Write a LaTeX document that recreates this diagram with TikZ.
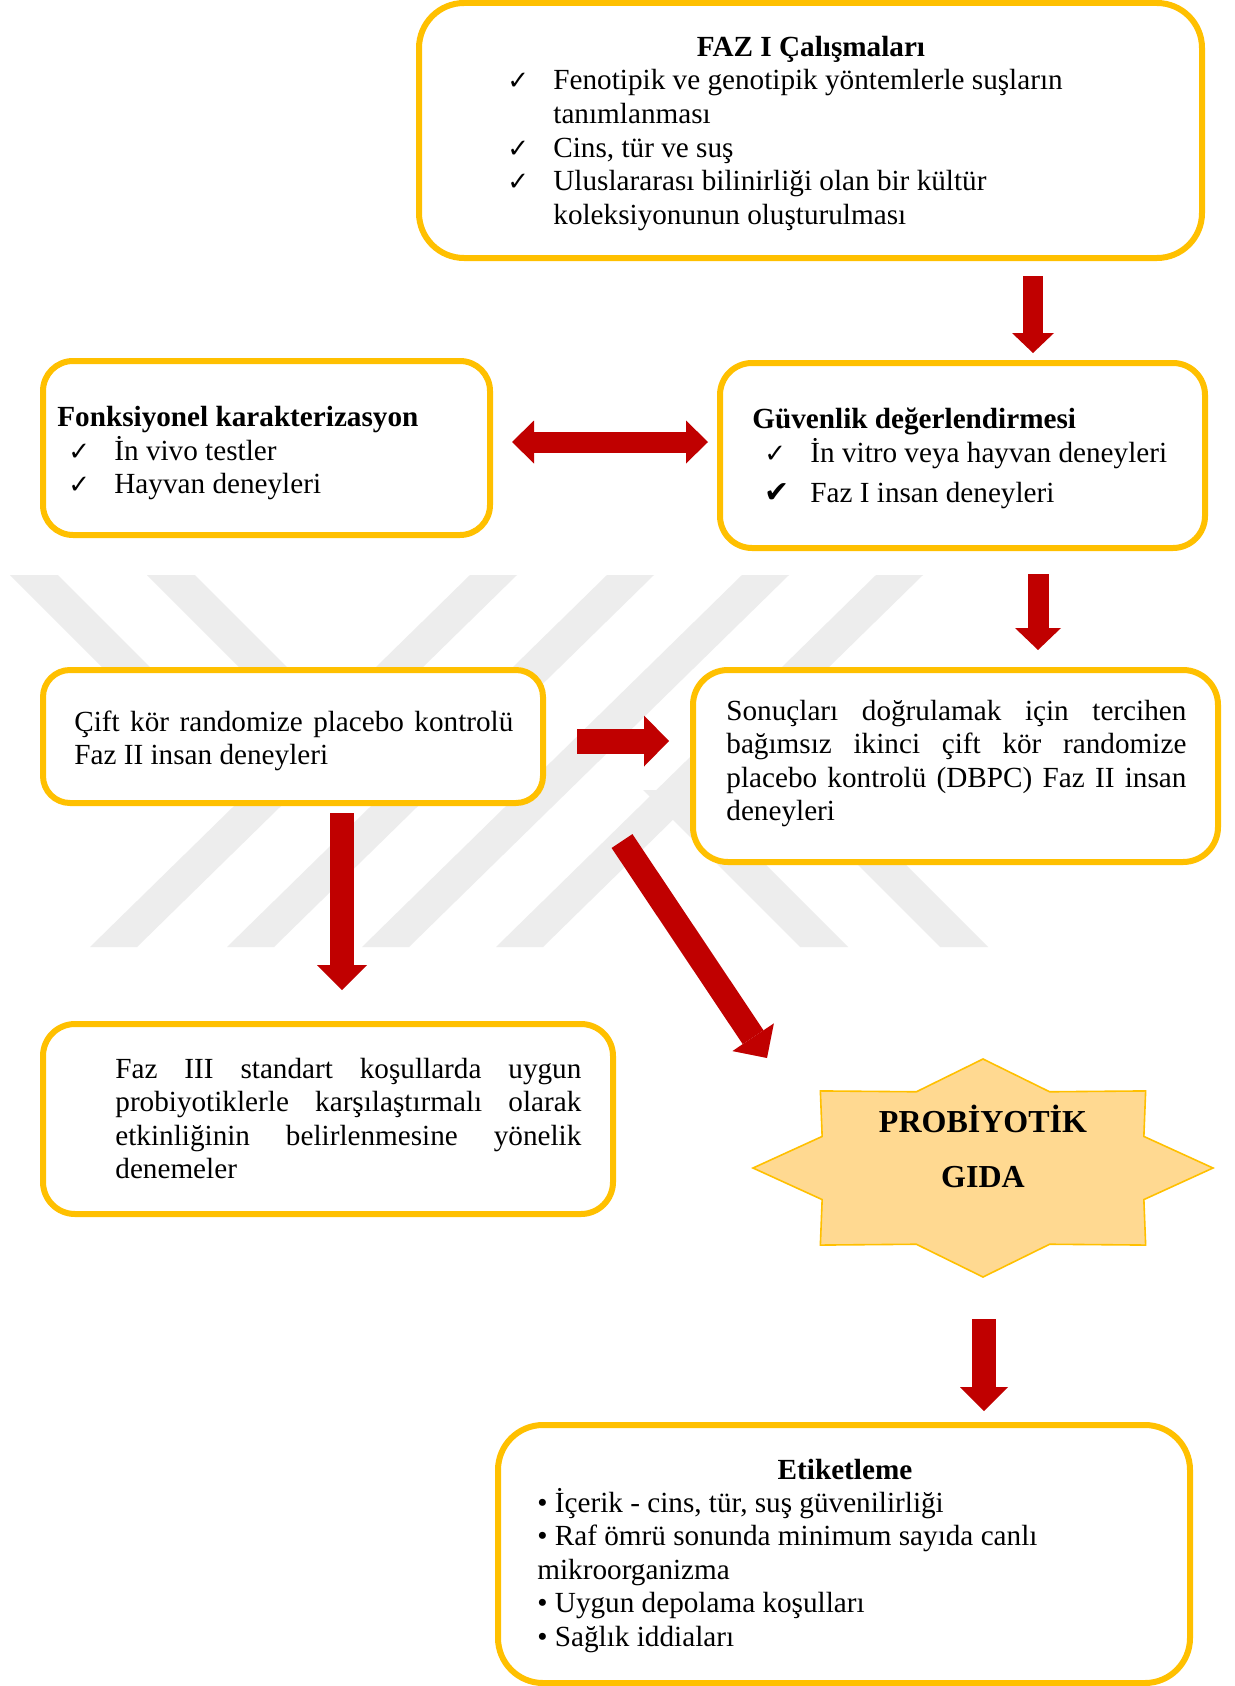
\documentclass[tikz,border=0pt]{standalone}
\usepackage{fontspec}
\setmainfont{Liberation Serif}
\newfontfamily\symbolfont{DejaVu Sans}
\usetikzlibrary{arrows.meta}

\definecolor{boxgold}{HTML}{FFC000}
\definecolor{arrowred}{HTML}{C00000}
\definecolor{starfill}{HTML}{FFD991}
\definecolor{markgray}{HTML}{EDEDED}

\newcommand{\chk}{{\symbolfont\fontsize{13}{13}\selectfont ✓}}
\newcommand{\chkbold}{{\symbolfont\fontsize{15}{13}\selectfont ✔}}
\newcommand{\chkitem}[1]{\makebox[23pt][l]{\chk}#1}

\begin{document}
\begin{tikzpicture}[x=0.5pt,y=-0.5pt]
  \tikzstyle{box}=[draw=boxgold,line width=3pt,fill=white]
  \tikzstyle{txt}=[inner sep=0pt,anchor=base west,font=\fontsize{14.6}{16.8}\selectfont]
  \tikzstyle{boxtitle}=[txt,font=\bfseries\fontsize{14.6}{16.8}\selectfont]
  \tikzset{
    redarrow/.style n args={3}{draw=arrowred,line width=#1,-{Triangle[width=#2,length=#3,line width=0pt]}},
    redboth/.style n args={3}{draw=arrowred,line width=#1,{Triangle[width=#2,length=#3,line width=0pt]}-{Triangle[width=#2,length=#3,line width=0pt]}}
  }

  \fill[white] (0,0) rectangle (1235,1686);
  \useasboundingbox (0,0) rectangle (1235,1686);

  % watermark
  \foreach \x in {470,607,742,876}
    \fill[markgray] (\x,575) -- ++(47,0) -- ++(-380,372) -- ++(-47,0) -- cycle;
  \foreach \x/\ya/\yb in {10/575/805,147/575/805,643/790/947,718/725/947}
    \fill[markgray] (\x,\ya) -- ++(48,0) -- (\x+48+\yb-\ya,\yb) -- (\x+\yb-\ya,\yb) -- cycle;

  % boxes
  \node[box,rounded corners=22.5pt,minimum width=391.5pt,minimum height=127.5pt] (faz1) at (810.5,130.5) {};
  \node[box,rounded corners=15pt,minimum width=223.5pt,minimum height=87pt] (fonk) at (266.5,448) {};
  \node[box,rounded corners=16pt,minimum width=242.5pt,minimum height=92.5pt] (guv) at (962.5,455.5) {};
  \node[box,rounded corners=13.5pt,minimum width=250pt,minimum height=66.5pt] (cift) at (293,736.5) {};
  \node[box,rounded corners=17.5pt,minimum width=262.5pt,minimum height=96pt] (sonuc) at (955.5,766) {};
  \node[box,rounded corners=16pt,minimum width=285pt,minimum height=95pt] (faz3) at (328,1119) {};
  \node[box,rounded corners=22.5pt,minimum width=346pt,minimum height=129pt] (etiket) at (844,1554) {};

  % texts
  \node[boxtitle,anchor=base] (faz1-title) at (811,57) {FAZ I Çalışmaları};
  \node[txt] (faz1-list) at (507,90) {\parbox[t]{300pt}{\chkitem{Fenotipik ve genotipik yöntemlerle suşların}\\
    \hspace*{23pt}tanımlanması\\ \chkitem{Cins, tür ve suş}\\ \chkitem{Uluslararası bilinirliği olan bir kültür}\\
    \hspace*{23pt}koleksiyonunun oluşturulması}};

  \node[boxtitle] (fonk-title) at (57,426) {Fonksiyonel karakterizasyon};
  \node[txt] (fonk-list) at (68,460) {\parbox[t]{250pt}{\chkitem{İn vivo testler}\\ \chkitem{Hayvan deneyleri}}};

  \node[boxtitle] (guv-title) at (752,428) {Güvenlik değerlendirmesi};
  \node[txt] (guv-list) at (764,462) {\parbox[t]{250pt}{\chkitem{İn vitro veya hayvan deneyleri}\\[3.2pt]
    \makebox[23pt][l]{\chkbold}Faz I insan deneyleri}};

  \node[txt] (cift-text) at (74,731) {\parbox[t]{250pt}{\makebox[219.5pt][s]{Çift kör randomize placebo kontrolü}\\
    Faz II insan deneyleri}};

  \node[txt] (sonuc-text) at (726,720) {\parbox[t]{250pt}{\makebox[230pt][s]{Sonuçları doğrulamak için tercihen}\\
    \makebox[230pt][s]{bağımsız ikinci çift kör randomize}\\
    \makebox[230pt][s]{placebo kontrolü (DBPC) Faz II insan}\\ deneyleri}};

  \node[txt] (faz3-text) at (115,1078) {\parbox[t]{250pt}{\makebox[233pt][s]{Faz III standart koşullarda uygun}\\
    \makebox[233pt][s]{probiyotiklerle karşılaştırmalı olarak}\\
    \makebox[233pt][s]{etkinliğinin belirlenmesine yönelik}\\ denemeler}};

  \node[boxtitle,anchor=base] (etiket-title) at (845,1479) {Etiketleme};
  \node[txt] (etiket-list) at (537,1512) {\parbox[t]{320pt}{• İçerik - cins, tür, suş güvenilirliği\\
    • Raf ömrü sonunda minimum sayıda canlı\\ mikroorganizma\\ • Uygun depolama koşulları\\ • Sağlık iddiaları}};

  % star
  \node[minimum width=230pt,minimum height=109pt,inner sep=0pt,outer sep=0pt] (gida) at (983,1168) {};
  \begin{scope}[shift={(gida.center)}]
    \draw[fill=starfill,draw=boxgold,line width=0.8pt] plot[samples at={0,22.5,...,337.5}]
      ({230*cos(\x)*(1-0.243*mod(round(\x/22.5),2))},{109*sin(\x)*(1-0.243*mod(round(\x/22.5),2))}) -- cycle;
  \end{scope}
  \node[boxtitle,anchor=base,font=\bfseries\fontsize{16}{27.5}\selectfont] (gida-text) at (983,1132)
    {\parbox[t]{150pt}{\centering PROBİYOTİK\\GIDA}};

  % arrows
  \coordinate (a1) at (1033,300);
  \draw[redarrow={10pt}{21pt}{10pt},shorten <=7.5pt,shorten >=3.5pt] (faz1.south -| a1) -- (guv.north -| a1);
  \coordinate (a2) at (1038,600);
  \draw[redarrow={10.5pt}{23pt}{11pt},shorten <=11.5pt,shorten >=8.5pt] (guv.south -| a2) -- (sonuc.north -| a2);
  \coordinate (dmid) at (610,442);
  \draw[redboth={10.5pt}{21.5pt}{11pt},shorten <=9.5pt,shorten >=4.5pt] (fonk.east |- dmid) -- (guv.west |- dmid);
  \coordinate (rmid) at (620,741);
  \draw[redarrow={12.5pt}{25.5pt}{12.5pt},shorten <=15.5pt,shorten >=10.5pt] (cift.east |- rmid) -- (sonuc.west |- rmid);
  \coordinate (a3) at (342,900);
  \draw[redarrow={12pt}{25pt}{12.5pt},shorten <=3.5pt,shorten >=15.5pt] (cift.south -| a3) -- (faz3.north -| a3);
  \coordinate (dg1) at (622,841);
  \coordinate (dg2) at (767,1058);
  \draw[redarrow={12.5pt}{25pt}{12.5pt}] (dg1) -- (dg2);
  \coordinate (a4) at (984,1300);
  \draw[redarrow={12pt}{24pt}{12pt},shorten <=21pt,shorten >=5.5pt] (gida.south -| a4) -- (etiket.north -| a4);

\end{tikzpicture}
\end{document}
